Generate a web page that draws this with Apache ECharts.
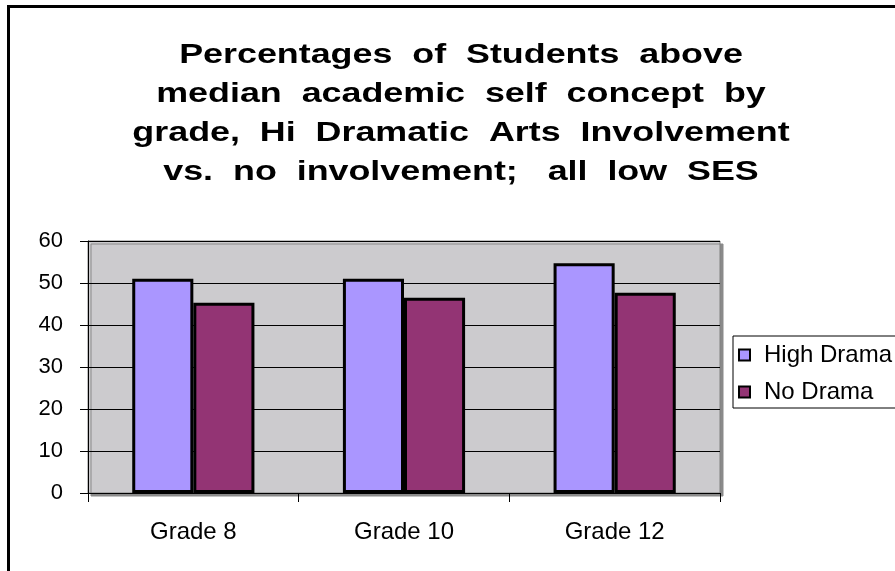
<!DOCTYPE html>
<html>
<head>
<meta charset="utf-8">
<script src="https://cdn.jsdelivr.net/npm/echarts@6/dist/echarts.min.js"></script>
<style>
  html, body { margin: 0; padding: 0; background: #fff; }
  #main { width: 895px; height: 571px; }
</style>
</head>
<body>
<div id="main"></div>
<script>
// data
var grades = ['Grade 8', 'Grade 10', 'Grade 12'];
var highDrama = [51, 51, 54.7];
var noDrama = [45.3, 46.5, 47.7];
var titleLines = [
  'Percentages  of  Students  above',
  'median  academic  self  concept  by',
  'grade,  Hi  Dramatic  Arts  Involvement',
  'vs.  no  involvement;   all  low  SES'
];

var myChart = echarts.init(document.getElementById('main'));

// title drawn as stretched text lines (the original font is wide)
var graphics = [{
  type: 'rect',
  shape: { x: 8.5, y: 6.5, width: 1000, height: 1000 },
  style: { fill: 'none', stroke: '#000', lineWidth: 3 },
  silent: true
}];
titleLines.forEach(function (line, i) {
  graphics.push({
    type: 'text',
    x: 461,
    y: 55 + 39 * i,
    scaleX: 1.28,
    style: {
      text: line,
      align: 'center',
      verticalAlign: 'middle',
      fontFamily: 'Liberation Sans',
      fontWeight: 'bold',
      fontSize: 28,
      fill: '#000'
    },
    silent: true
  });
});

var option = {
  backgroundColor: '#fff',
  animation: false,
  graphic: graphics,
  color: ['#aa96ff', '#933474'],
  legend: {
    orient: 'vertical',
    left: 733,
    top: 336,
    width: 250,
    padding: [7, 60, 4, 5],
    itemGap: 13,
    itemWidth: 11,
    itemHeight: 11,
    icon: 'rect',
    borderColor: '#000',
    borderWidth: 1,
    backgroundColor: '#fff',
    itemStyle: { borderColor: '#000', borderWidth: 2 },
    textStyle: { fontFamily: 'Liberation Sans', fontSize: 24, color: '#000', padding: [0, 0, 0, 9] },
    data: ['High Drama', 'No Drama']
  },
  grid: {
    left: 88,
    right: 175,
    top: 241,
    bottom: 78,
    show: true,
    backgroundColor: '#cccbce',
    borderColor: '#808080',
    borderWidth: 1,
    shadowColor: '#8a8a8a',
    shadowOffsetX: 3,
    shadowOffsetY: 3,
    shadowBlur: 0
  },
  xAxis: {
    type: 'category',
    data: grades,
    axisLine: { lineStyle: { color: '#000', width: 1 } },
    axisTick: { show: true, length: 9, lineStyle: { color: '#000' } },
    axisLabel: {
      margin: 27,
      fontFamily: 'Liberation Sans',
      fontSize: 24,
      color: '#000'
    }
  },
  yAxis: {
    type: 'value',
    min: 0,
    max: 60,
    interval: 10,
    axisLine: { show: true, lineStyle: { color: '#000', width: 1 } },
    axisTick: { show: true, length: 8, lineStyle: { color: '#000' } },
    axisLabel: {
      margin: 25,
      fontFamily: 'Liberation Sans',
      fontSize: 22,
      color: '#000'
    },
    splitLine: { lineStyle: { color: '#000', width: 1 } }
  },
  series: [
    {
      name: 'High Drama',
      type: 'bar',
      data: highDrama,
      barGap: '0%',
      barCategoryGap: '42%',
      itemStyle: { borderColor: '#000', borderWidth: 3 }
    },
    {
      name: 'No Drama',
      type: 'bar',
      data: noDrama,
      barGap: '0%',
      barCategoryGap: '42%',
      itemStyle: { borderColor: '#000', borderWidth: 3 }
    }
  ]
};

myChart.setOption(option);
</script>
</body>
</html>
